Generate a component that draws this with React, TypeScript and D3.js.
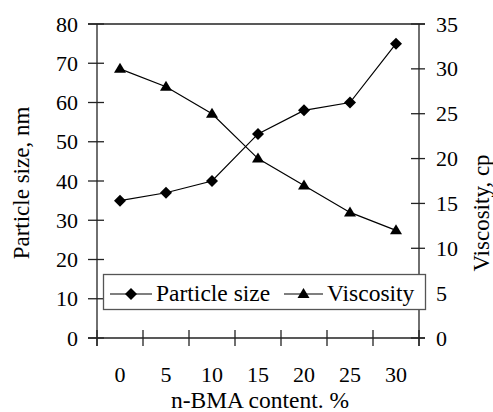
import React, { useEffect } from "react";
import * as d3 from "d3";

const categories = ["0", "5", "10", "15", "20", "25", "30"];
const particleSize = [35, 37, 40, 52, 58, 60, 75];
const viscosity = [30, 28, 25, 20, 17, 14, 12];
const leftTicks = [0, 10, 20, 30, 40, 50, 60, 70, 80];
const rightTicks = [0, 5, 10, 15, 20, 25, 30, 35];
const xTitle = "n-BMA content. %";
const yLeftTitle = "Particle size, nm";
const yRightTitle = "Viscosity, cp";
const seriesNames = ["Particle size", "Viscosity"];

const W = 493;
const H = 412;
const L = 97, R = 419, T = 24, B = 338;
const AX = "#222";
const FF = `"Liberation Serif", "Times New Roman", Tinos, serif`;

export default function App() {
  useEffect(() => {
    document.body.style.margin = "0";
    document.body.style.fontFamily = FF;
  }, []);

  const x = d3.scaleBand<string>().domain(categories).range([L, R]);
  const yL = d3.scaleLinear().domain([0, 80]).range([B, T]);
  const yR = d3.scaleLinear().domain([0, 35]).range([B, T]);
  const cx = (c: string) => (x(c) as number) + x.bandwidth() / 2;

  const lineL = d3.line<number>().x((_, i) => cx(categories[i])).y((d) => yL(d));
  const lineR = d3.line<number>().x((_, i) => cx(categories[i])).y((d) => yR(d));

  const diamond = (px: number, py: number, r = 6) =>
    `M${px},${py - r}L${px + r},${py}L${px},${py + r}L${px - r},${py}Z`;
  const tri = (px: number, py: number) =>
    `M${px},${py - 6}L${px + 6},${py + 4}L${px - 6},${py + 4}Z`;

  const xTickPos = d3.range(categories.length + 1).map((i) => L + i * x.step());
  const ts = { fontFamily: FF };

  return (
    <svg width={W} height={H} style={{ position: "fixed", left: 0, top: 0, fontFamily: FF }}>
      <rect x={0} y={0} width={W} height={H} fill="#fff" />
      <line x1={88} x2={425} y1={T} y2={T} stroke={AX} strokeWidth={1.3} />
      <line x1={88} x2={425} y1={B} y2={B} stroke={AX} strokeWidth={1.3} />
      <line x1={L} x2={L} y1={T} y2={B + 8} stroke={AX} strokeWidth={1.3} />
      <line x1={R} x2={R} y1={T} y2={B + 8} stroke={AX} strokeWidth={1.3} />
      {leftTicks.map((t) => (
        <line key={"lt" + t} x1={88} x2={104} y1={yL(t)} y2={yL(t)} stroke={AX} strokeWidth={1.3} />
      ))}
      {leftTicks.map((t) => (
        <text key={"l" + t} x={78} y={yL(t) + 7.5} fontSize={22} textAnchor="end" style={ts}>
          {String(t)}
        </text>
      ))}
      {rightTicks.map((t) => (
        <line key={"rt" + t} x1={411} x2={425} y1={yR(t)} y2={yR(t)} stroke={AX} strokeWidth={1.3} />
      ))}
      {rightTicks.map((t) => (
        <text key={"r" + t} x={436} y={yR(t) + 7.5} fontSize={22} style={ts}>
          {String(t)}
        </text>
      ))}
      {xTickPos.map((p, i) => (
        <line key={"x" + i} x1={p} x2={p} y1={B - 8} y2={B + 8} stroke={AX} strokeWidth={1.3} />
      ))}
      {categories.map((c) => (
        <text key={"xl" + c} x={cx(c)} y={382} fontSize={22} textAnchor="middle" style={ts}>
          {c}
        </text>
      ))}
      <text x={(L + R) / 2 + 2} y={408} fontSize={23.5} textAnchor="middle" style={ts}>
        {xTitle}
      </text>
      <text transform={`translate(28.5,${(T + B) / 2 + 2}) rotate(-90)`} fontSize={23} textAnchor="middle" style={ts}>
        {yLeftTitle}
      </text>
      <text transform={`translate(489,213) rotate(-90)`} fontSize={23} textAnchor="middle" style={ts}>
        {yRightTitle}
      </text>
      <path d={lineL(particleSize) || ""} fill="none" stroke="#000" strokeWidth={1.2} />
      <path d={lineR(viscosity) || ""} fill="none" stroke="#000" strokeWidth={1.2} />
      {particleSize.map((v, i) => (
        <path key={"d" + i} d={diamond(cx(categories[i]), yL(v))} fill="#000" />
      ))}
      {viscosity.map((v, i) => (
        <path key={"t" + i} d={tri(cx(categories[i]), yR(v))} fill="#000" />
      ))}
      <rect x={103.5} y={274.5} width={322} height={35} fill="#fff" stroke="#555" strokeWidth={1.3} />
      <line x1={110} x2={152} y1={294} y2={294} stroke="#000" strokeWidth={1.2} />
      <path d={diamond(131, 294)} fill="#000" />
      <text x={156} y={300.5} fontSize={23.5} style={ts}>{seriesNames[0]}</text>
      <line x1={284} x2={323} y1={294} y2={294} stroke="#000" strokeWidth={1.2} />
      <path d={tri(303.5, 294)} fill="#000" />
      <text x={327} y={300.5} fontSize={23.5} style={ts}>{seriesNames[1]}</text>
    </svg>
  );
}
